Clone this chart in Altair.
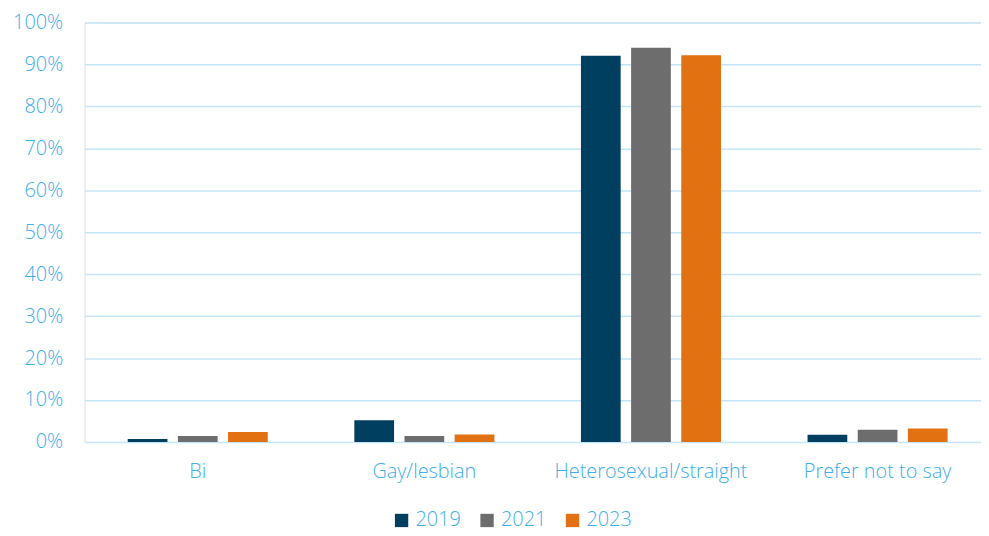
import altair as alt
import pandas as pd

categories = ["Bi", "Gay/lesbian", "Heterosexual/straight", "Prefer not to say"]
years = ["2019", "2021", "2023"]
values_2019 = [0.7, 5.2, 92.1, 1.7]
values_2021 = [1.4, 1.4, 94.0, 2.9]
values_2023 = [2.4, 1.8, 92.2, 3.2]
colors = ["#003f5f", "#6d6d6d", "#e27112"]

rows = []
for yr, vals in zip(years, [values_2019, values_2021, values_2023]):
    for c, v in zip(categories, vals):
        rows.append({"category": c, "year": yr, "value": v / 100})
df = pd.DataFrame(rows)

FONT = "Open Sans"
LABEL = "#3eaeec"
GRID = "#c3e6fa"
FS = 20

chart = alt.Chart(df).mark_bar().encode(
    x=alt.X("category:N", sort=categories,
            scale=alt.Scale(paddingInner=0.382, paddingOuter=0.169, align=0.564),
            axis=alt.Axis(title=None, labelAngle=0, labelFontSize=FS, labelColor=LABEL,
                          labelFont=FONT, labelPadding=20, ticks=False, domain=False,
                          grid=False, labelFontWeight=300, labelLimit=400)),
    xOffset=alt.XOffset("year:N", sort=years, scale=alt.Scale(paddingInner=0.208)),
    y=alt.Y("value:Q", scale=alt.Scale(domain=[0, 1], nice=False),
            axis=alt.Axis(title=None, format=".0%", values=[i / 10 for i in range(11)],
                          labelFontSize=FS, labelColor=LABEL, labelFont=FONT,
                          labelFontWeight=300, labelPadding=22, ticks=False, domain=False,
                          gridColor=GRID, gridWidth=1.5)),
    color=alt.Color("year:N", sort=years, scale=alt.Scale(domain=years, range=colors),
                    legend=alt.Legend(title=None, orient="none", direction="horizontal",
                                      legendX=309, legendY=491,
                                      symbolType="square", symbolSize=180,
                                      symbolStrokeWidth=0, labelFontSize=FS,
                                      labelColor=LABEL, labelFont=FONT, labelFontWeight=300,
                                      columnPadding=16, labelOffset=4)),
).properties(
    width=902, height=422,
    autosize=alt.AutoSizeParams(type="none"),
    padding={"left": 77, "top": 13, "right": 0, "bottom": 92},
).configure_view(stroke=None).configure(background="white")

chart.save("out.html", embed_options={"renderer": "svg", "actions": False})
